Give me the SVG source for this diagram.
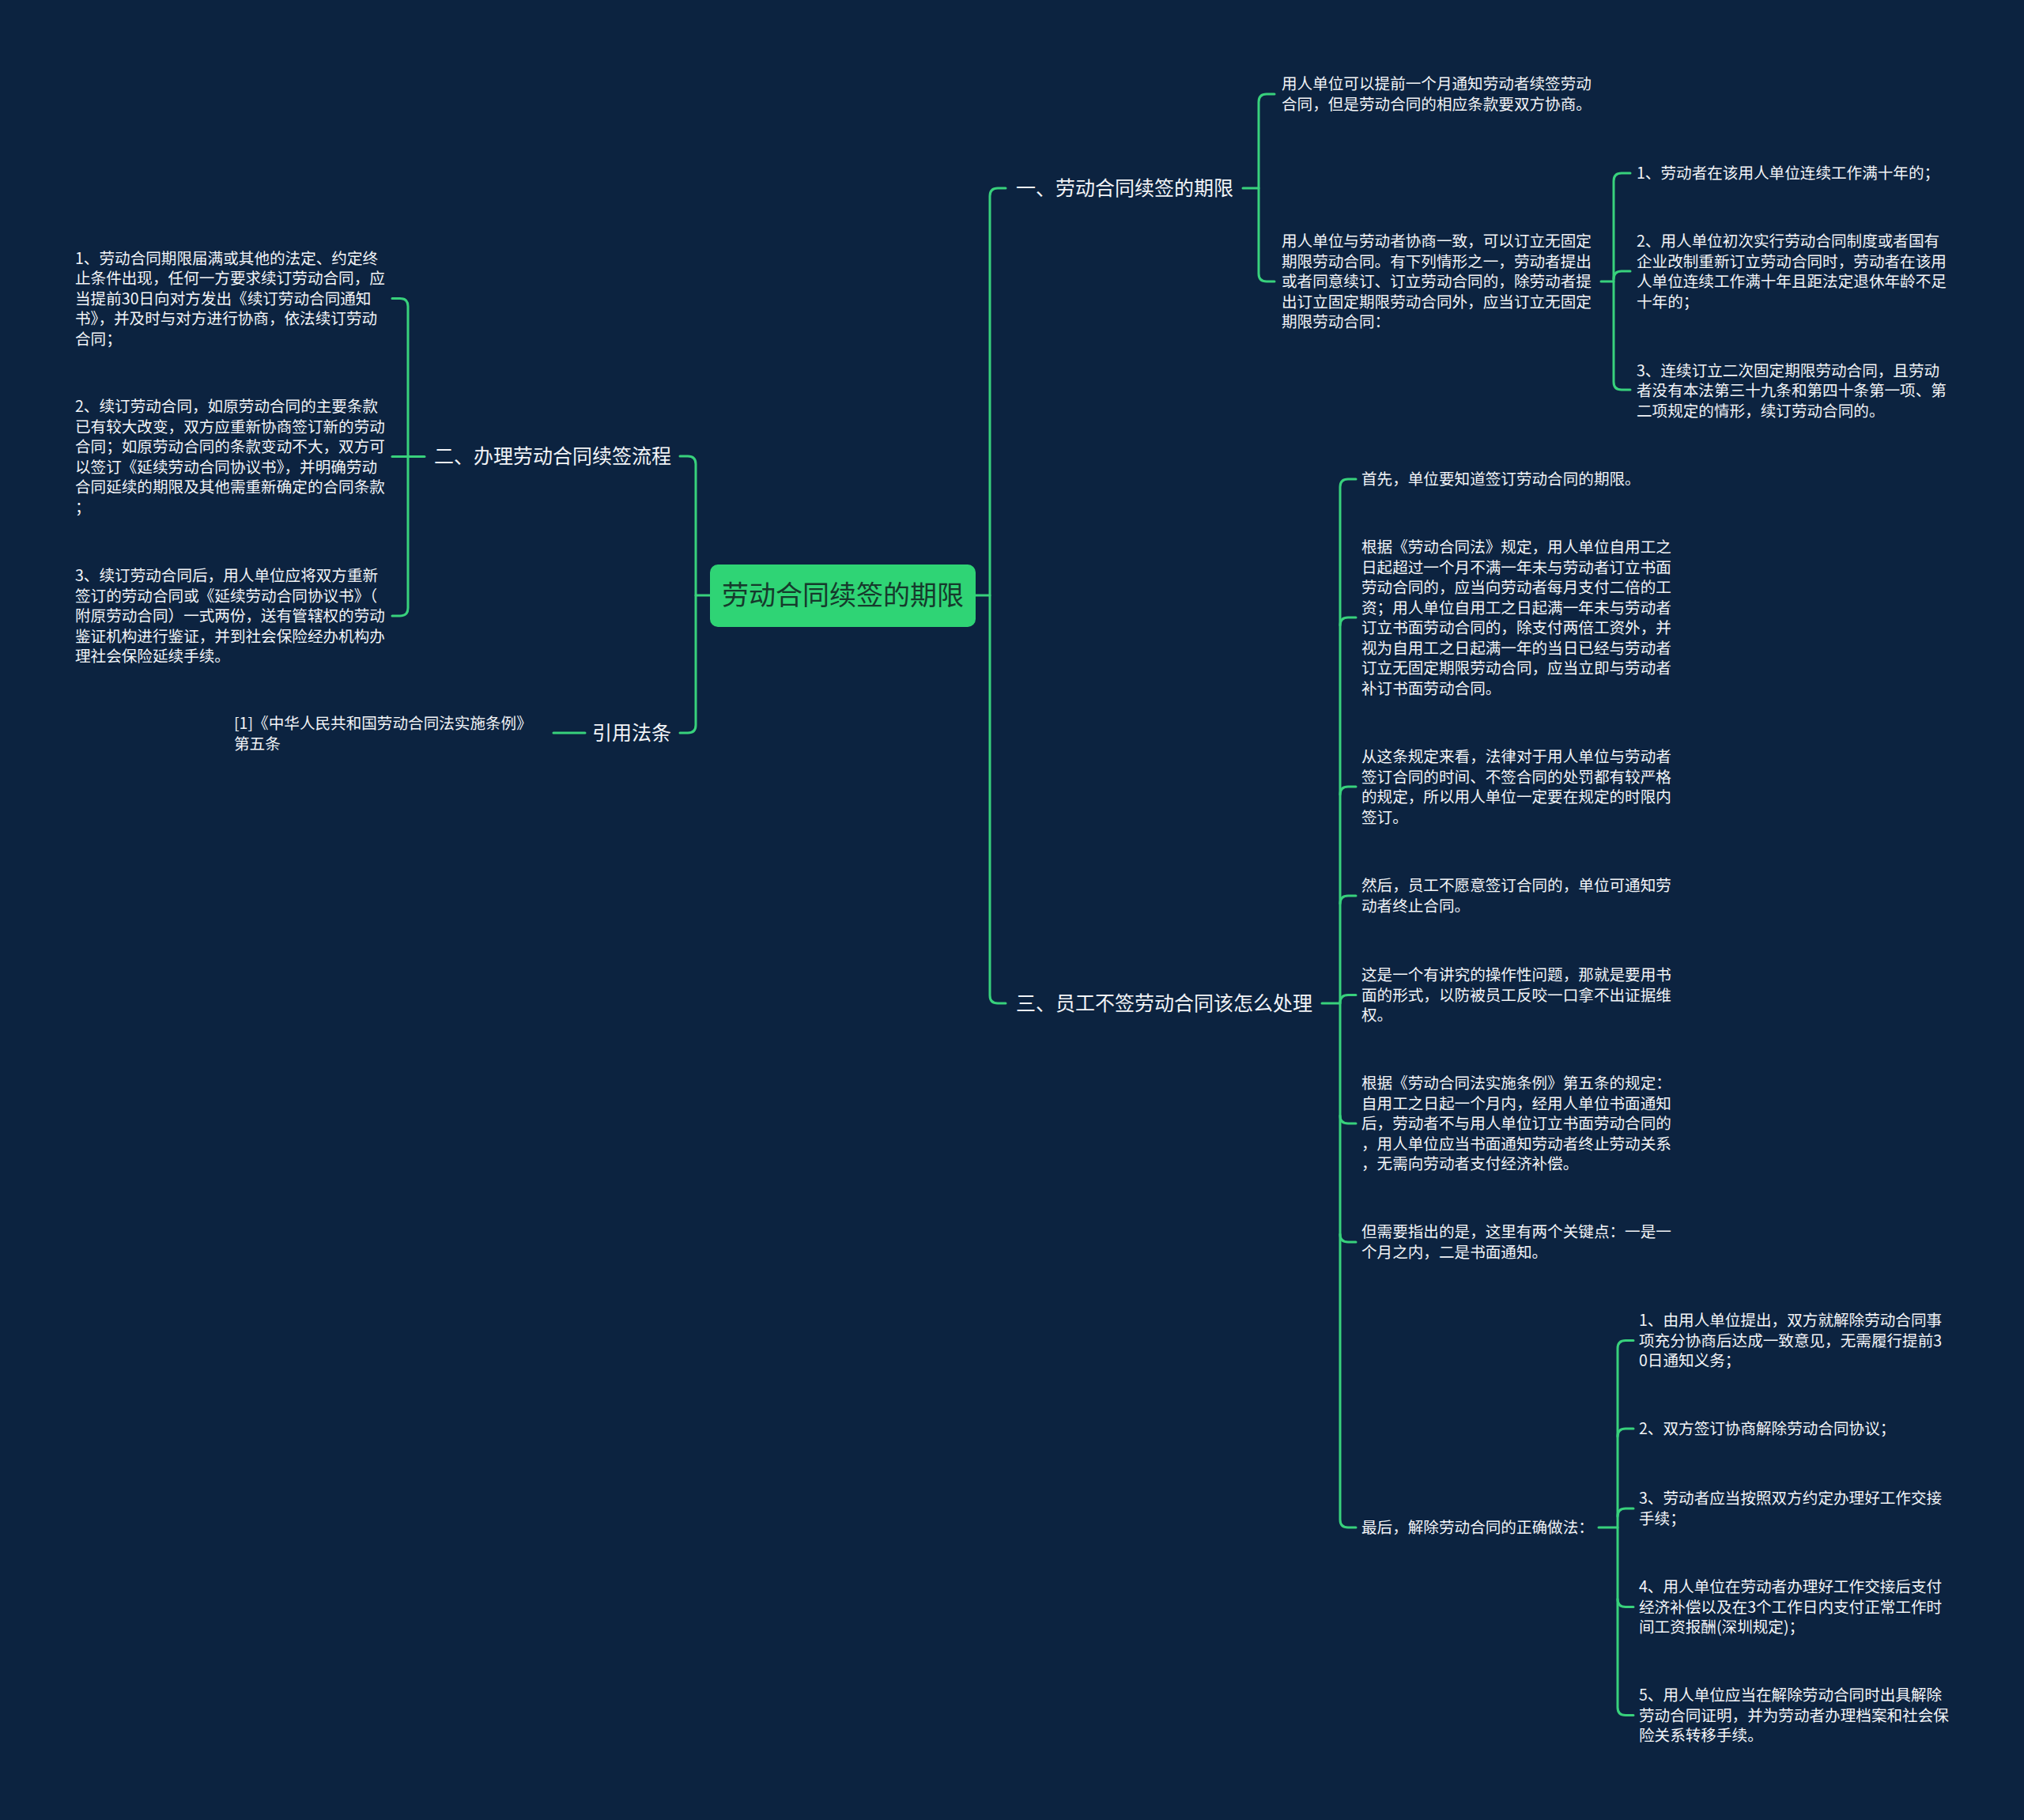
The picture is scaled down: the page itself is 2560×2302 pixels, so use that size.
<svg xmlns="http://www.w3.org/2000/svg" width="2560" height="2302" viewBox="0 0 2560 2302">
<style>
.bg{fill:#0c2340}
.ln{fill:none;stroke:#38d17c;stroke-width:3;stroke-linecap:round}
.t{font-family:"Noto Sans CJK SC","Noto Sans",sans-serif;fill:#f2f4f7}
.leaf{font-size:19.6px}
.br{font-size:25px}
.root{font-size:34px;fill:#163a2c}
</style>
<rect class="bg" x="0" y="0" width="2560" height="2302"/>
<g id="connectors">
<path class="ln" d="M1234,753 H1252"/>
<path class="ln" d="M1272,238 H1262 Q1252,238 1252,248 V1259 Q1252,1269 1262,1269 H1272"/>
<path class="ln" d="M898,753 H880"/>
<path class="ln" d="M860,577 H870 Q880,577 880,587 V917 Q880,927 870,927 H860"/>
<path class="ln" d="M1572,238 H1592"/>
<path class="ln" d="M1612,119 H1602 Q1592,119 1592,129 V346 Q1592,356 1602,356 H1612"/>
<path class="ln" d="M2025,356 H2041"/>
<path class="ln" d="M2062,219 H2051 Q2041,219 2041,229 V483 Q2041,493 2051,493 H2062"/>
<path class="ln" d="M2041,353 Q2041,343 2051,343 H2062"/>
<path class="ln" d="M1672,1269 H1695"/>
<path class="ln" d="M1715,606 H1705 Q1695,606 1695,616 V1922 Q1695,1932 1705,1932 H1715"/>
<path class="ln" d="M1695,791 Q1695,781 1705,781 H1715"/>
<path class="ln" d="M1695,1005 Q1695,995 1705,995 H1715"/>
<path class="ln" d="M1695,1143 Q1695,1133 1705,1133 H1715"/>
<path class="ln" d="M1695,1268.5 Q1695,1258.5 1705,1258.5 H1715"/>
<path class="ln" d="M1695,1411 Q1695,1421 1705,1421 H1715"/>
<path class="ln" d="M1695,1561 Q1695,1571 1705,1571 H1715"/>
<path class="ln" d="M2022,1932 H2046"/>
<path class="ln" d="M2066,1695.5 H2056 Q2046,1695.5 2046,1705.5 V2159.5 Q2046,2169.5 2056,2169.5 H2066"/>
<path class="ln" d="M2046,1817 Q2046,1807 2056,1807 H2066"/>
<path class="ln" d="M2046,1918 Q2046,1908 2056,1908 H2066"/>
<path class="ln" d="M2046,2022.5 Q2046,2032.5 2056,2032.5 H2066"/>
<path class="ln" d="M537,577.5 H496"/>
<path class="ln" d="M496,377.5 H506 Q516,377.5 516,387.5 V769 Q516,779 506,779 H496"/>
<path class="ln" d="M740,927 H700"/>
</g>
<g id="root">
<rect x="898" y="714" width="336" height="79" rx="10" fill="#2fd475"/>
<text class="t root" x="1066" y="765" text-anchor="middle">劳动合同续签的期限</text>
</g>
<g id="b1"><text class="t br" x="1285" y="247">一、劳动合同续签的期限</text></g>
<g id="b1a"><text class="t leaf"><tspan x="1621" y="113">用人单位可以提前一个月通知劳动者续签劳动</tspan><tspan x="1621" y="139">合同，但是劳动合同的相应条款要双方协商。</tspan></text></g>
<g id="b1b"><text class="t leaf"><tspan x="1621" y="312">用人单位与劳动者协商一致，可以订立无固定</tspan><tspan x="1621" y="337.5">期限劳动合同。有下列情形之一，劳动者提出</tspan><tspan x="1621" y="363">或者同意续订、订立劳动合同的，除劳动者提</tspan><tspan x="1621" y="388.5">出订立固定期限劳动合同外，应当订立无固定</tspan><tspan x="1621" y="414">期限劳动合同：</tspan></text></g>
<g id="b1b1"><text class="t leaf" x="2070" y="226">1、劳动者在该用人单位连续工作满十年的；</text></g>
<g id="b1b2"><text class="t leaf"><tspan x="2070" y="312">2、用人单位初次实行劳动合同制度或者国有</tspan><tspan x="2070" y="337.5">企业改制重新订立劳动合同时，劳动者在该用</tspan><tspan x="2070" y="363">人单位连续工作满十年且距法定退休年龄不足</tspan><tspan x="2070" y="388.5">十年的；</tspan></text></g>
<g id="b1b3"><text class="t leaf"><tspan x="2070" y="475.5">3、连续订立二次固定期限劳动合同，且劳动</tspan><tspan x="2070" y="501">者没有本法第三十九条和第四十条第一项、第</tspan><tspan x="2070" y="526.5">二项规定的情形，续订劳动合同的。</tspan></text></g>
<g id="b2"><text class="t br" x="549" y="586">二、办理劳动合同续签流程</text></g>
<g id="b2a"><text class="t leaf"><tspan x="95" y="333.5">1、劳动合同期限届满或其他的法定、约定终</tspan><tspan x="95" y="359">止条件出现，任何一方要求续订劳动合同，应</tspan><tspan x="95" y="384.5">当提前30日向对方发出《续订劳动合同通知</tspan><tspan x="95" y="410">书》，并及时与对方进行协商，依法续订劳动</tspan><tspan x="95" y="435.5">合同；</tspan></text></g>
<g id="b2b"><text class="t leaf"><tspan x="95" y="521">2、续订劳动合同，如原劳动合同的主要条款</tspan><tspan x="95" y="546.5">已有较大改变，双方应重新协商签订新的劳动</tspan><tspan x="95" y="572">合同；如原劳动合同的条款变动不大，双方可</tspan><tspan x="95" y="597.5">以签订《延续劳动合同协议书》，并明确劳动</tspan><tspan x="95" y="623">合同延续的期限及其他需重新确定的合同条款</tspan><tspan x="95" y="648.5">；</tspan></text></g>
<g id="b2c"><text class="t leaf"><tspan x="95" y="735">3、续订劳动合同后，用人单位应将双方重新</tspan><tspan x="95" y="760.5">签订的劳动合同或《延续劳动合同协议书》（</tspan><tspan x="95" y="786">附原劳动合同）一式两份，送有管辖权的劳动</tspan><tspan x="95" y="811.5">鉴证机构进行鉴证，并到社会保险经办机构办</tspan><tspan x="95" y="837">理社会保险延续手续。</tspan></text></g>
<g id="b4"><text class="t br" x="749" y="936">引用法条</text></g>
<g id="b4a"><text class="t leaf"><tspan x="296" y="922">[1]《中华人民共和国劳动合同法实施条例》</tspan><tspan x="296" y="947.5">第五条</tspan></text></g>
<g id="b3"><text class="t br" x="1285" y="1278">三、员工不签劳动合同该怎么处理</text></g>
<g id="b3a"><text class="t leaf" x="1722" y="613">首先，单位要知道签订劳动合同的期限。</text></g>
<g id="b3b"><text class="t leaf"><tspan x="1722" y="699">根据《劳动合同法》规定，用人单位自用工之</tspan><tspan x="1722" y="724.5">日起超过一个月不满一年未与劳动者订立书面</tspan><tspan x="1722" y="750">劳动合同的，应当向劳动者每月支付二倍的工</tspan><tspan x="1722" y="775.5">资；用人单位自用工之日起满一年未与劳动者</tspan><tspan x="1722" y="801">订立书面劳动合同的，除支付两倍工资外，并</tspan><tspan x="1722" y="826.5">视为自用工之日起满一年的当日已经与劳动者</tspan><tspan x="1722" y="852">订立无固定期限劳动合同，应当立即与劳动者</tspan><tspan x="1722" y="877.5">补订书面劳动合同。</tspan></text></g>
<g id="b3c"><text class="t leaf"><tspan x="1722" y="964">从这条规定来看，法律对于用人单位与劳动者</tspan><tspan x="1722" y="989.5">签订合同的时间、不签合同的处罚都有较严格</tspan><tspan x="1722" y="1015">的规定，所以用人单位一定要在规定的时限内</tspan><tspan x="1722" y="1040.5">签订。</tspan></text></g>
<g id="b3d"><text class="t leaf"><tspan x="1722" y="1127">然后，员工不愿意签订合同的，单位可通知劳</tspan><tspan x="1722" y="1152.5">动者终止合同。</tspan></text></g>
<g id="b3e"><text class="t leaf"><tspan x="1722" y="1240">这是一个有讲究的操作性问题，那就是要用书</tspan><tspan x="1722" y="1265.5">面的形式，以防被员工反咬一口拿不出证据维</tspan><tspan x="1722" y="1291">权。</tspan></text></g>
<g id="b3f"><text class="t leaf"><tspan x="1722" y="1377">根据《劳动合同法实施条例》第五条的规定：</tspan><tspan x="1722" y="1402.5">自用工之日起一个月内，经用人单位书面通知</tspan><tspan x="1722" y="1428">后，劳动者不与用人单位订立书面劳动合同的</tspan><tspan x="1722" y="1453.5">，用人单位应当书面通知劳动者终止劳动关系</tspan><tspan x="1722" y="1479">，无需向劳动者支付经济补偿。</tspan></text></g>
<g id="b3g"><text class="t leaf"><tspan x="1722" y="1565">但需要指出的是，这里有两个关键点：一是一</tspan><tspan x="1722" y="1590.5">个月之内，二是书面通知。</tspan></text></g>
<g id="b3h"><text class="t leaf" x="1722" y="1939">最后，解除劳动合同的正确做法：</text></g>
<g id="b3h1"><text class="t leaf"><tspan x="2073" y="1677">1、由用人单位提出，双方就解除劳动合同事</tspan><tspan x="2073" y="1702.5">项充分协商后达成一致意见，无需履行提前3</tspan><tspan x="2073" y="1728">0日通知义务；</tspan></text></g>
<g id="b3h2"><text class="t leaf" x="2073" y="1814">2、双方签订协商解除劳动合同协议；</text></g>
<g id="b3h3"><text class="t leaf"><tspan x="2073" y="1902">3、劳动者应当按照双方约定办理好工作交接</tspan><tspan x="2073" y="1927.5">手续；</tspan></text></g>
<g id="b3h4"><text class="t leaf"><tspan x="2073" y="2014">4、用人单位在劳动者办理好工作交接后支付</tspan><tspan x="2073" y="2039.5">经济补偿以及在3个工作日内支付正常工作时</tspan><tspan x="2073" y="2065">间工资报酬(深圳规定)；</tspan></text></g>
<g id="b3h5"><text class="t leaf"><tspan x="2073" y="2151">5、用人单位应当在解除劳动合同时出具解除</tspan><tspan x="2073" y="2176.5">劳动合同证明，并为劳动者办理档案和社会保</tspan><tspan x="2073" y="2202">险关系转移手续。</tspan></text></g>
</svg>
